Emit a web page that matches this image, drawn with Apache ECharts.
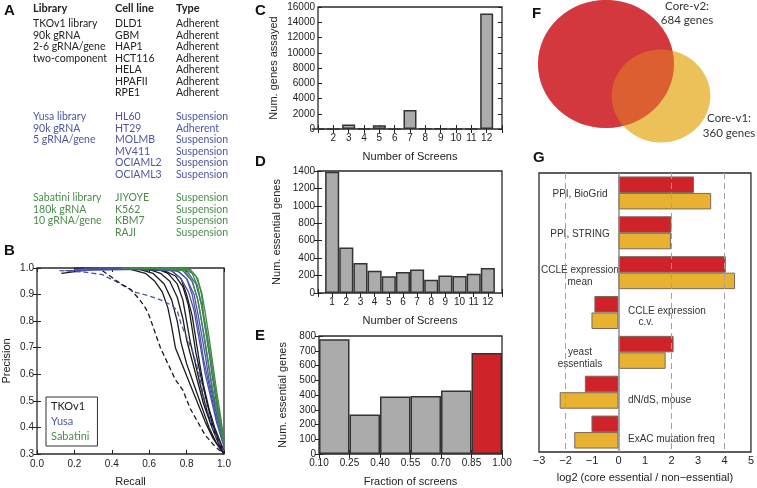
<!DOCTYPE html>
<html>
<head>
<meta charset="utf-8">
<script src="https://cdn.jsdelivr.net/npm/echarts@6/dist/echarts.min.js"></script>
<style>
  html, body { margin: 0; padding: 0; background: #fff; }
  #main { width: 757px; height: 488px; }
</style>
</head>
<body>
<div id="main"></div>
<script>
// ---- panel A: library table
var tkoInfo = ['TKOv1 library', '90k gRNA', '2-6 gRNA/gene', 'two-component'];
var tkoLines = ['DLD1', 'GBM', 'HAP1', 'HCT116', 'HELA', 'HPAFII', 'RPE1'];
var tkoTypes = ['Adherent', 'Adherent', 'Adherent', 'Adherent', 'Adherent', 'Adherent', 'Adherent'];
var yusaInfo = ['Yusa library', '90k gRNA', '5 gRNA/gene'];
var yusaLines = ['HL60', 'HT29', 'MOLMB', 'MV411', 'OCIAML2', 'OCIAML3'];
var yusaTypes = ['Suspension', 'Adherent', 'Suspension', 'Suspension', 'Suspension', 'Suspension'];
var sabInfo = ['Sabatini library', '180k gRNA', '10 gRNA/gene'];
var sabLines = ['JIYOYE', 'K562', 'KBM7', 'RAJI'];
var sabTypes = ['Suspension', 'Suspension', 'Suspension', 'Suspension'];

// ---- panel B: precision / recall curves [recall, precision]
var tkoCurves = [
  [[0.13,0.98],[0.3,0.995],[0.5,0.995],[0.58,0.98],[0.63,0.95],[0.67,0.91],[0.70,0.85],[0.72,0.78],[0.74,0.70],[0.78,0.63],[0.82,0.56],[0.86,0.49],[0.90,0.42],[0.94,0.36],[1.0,0.30]],
  [[0.2,1.0],[0.55,0.995],[0.62,0.98],[0.68,0.94],[0.72,0.88],[0.75,0.80],[0.77,0.72],[0.80,0.64],[0.84,0.56],[0.88,0.48],[0.92,0.40],[0.96,0.34],[1.0,0.30]],
  [[0.25,1.0],[0.6,0.995],[0.66,0.98],[0.71,0.95],[0.75,0.89],[0.78,0.81],[0.80,0.73],[0.83,0.65],[0.86,0.57],[0.89,0.49],[0.93,0.41],[0.97,0.34],[1.0,0.30]],
  [[0.3,1.0],[0.65,0.995],[0.70,0.98],[0.75,0.94],[0.78,0.88],[0.80,0.80],[0.82,0.72],[0.85,0.63],[0.88,0.54],[0.91,0.46],[0.95,0.38],[1.0,0.31]],
  [[0.35,1.0],[0.68,0.99],[0.74,0.97],[0.78,0.93],[0.81,0.86],[0.83,0.77],[0.85,0.68],[0.88,0.58],[0.91,0.49],[0.94,0.41],[0.97,0.35],[1.0,0.30]],
  [[0.4,1.0],[0.72,0.99],[0.77,0.96],[0.80,0.90],[0.83,0.82],[0.85,0.73],[0.87,0.64],[0.89,0.56],[0.92,0.47],[0.95,0.40],[1.0,0.31]]
];
var tkoDashed = [[0.35,0.99],[0.40,0.965],[0.45,0.94],[0.50,0.92],[0.55,0.88],[0.58,0.85],[0.60,0.82],[0.63,0.76],[0.66,0.70],[0.70,0.64],[0.74,0.58],[0.78,0.54],[0.82,0.47],[0.86,0.42],[0.90,0.37],[0.95,0.33],[1.0,0.30]];
var yusaCurves = [
  [[0.15,0.99],[0.55,0.995],[0.72,0.99],[0.77,0.96],[0.81,0.91],[0.84,0.84],[0.86,0.76],[0.88,0.68],[0.90,0.60],[0.93,0.51],[0.96,0.42],[0.99,0.35],[1.0,0.33]],
  [[0.2,0.995],[0.6,1.0],[0.75,0.99],[0.80,0.96],[0.84,0.90],[0.86,0.83],[0.88,0.75],[0.90,0.67],[0.92,0.58],[0.95,0.48],[0.98,0.40],[1.0,0.34]],
  [[0.25,1.0],[0.65,1.0],[0.78,0.99],[0.83,0.95],[0.86,0.88],[0.88,0.80],[0.90,0.71],[0.92,0.62],[0.94,0.53],[0.96,0.45],[0.99,0.37],[1.0,0.35]],
  [[0.3,1.0],[0.7,1.0],[0.80,0.99],[0.85,0.94],[0.88,0.86],[0.90,0.77],[0.92,0.68],[0.94,0.58],[0.96,0.49],[0.98,0.41],[1.0,0.36]],
  [[0.7,0.995],[0.76,0.985],[0.80,0.96],[0.83,0.90],[0.85,0.83],[0.87,0.75],[0.89,0.66],[0.92,0.56],[0.95,0.46],[0.98,0.38],[1.0,0.33]]
];
var yusaDashed = [[0.12,0.99],[0.25,0.985],[0.35,0.975],[0.42,0.95],[0.47,0.93],[0.52,0.91],[0.60,0.895],[0.66,0.88],[0.72,0.86],[0.75,0.84],[0.77,0.79],[0.80,0.74],[0.83,0.69],[0.86,0.62],[0.89,0.52],[0.92,0.44],[0.96,0.36],[1.0,0.31]];
var sabCurves = [
  [[0.45,1.0],[0.78,1.0],[0.83,0.98],[0.86,0.93],[0.88,0.86],[0.90,0.78],[0.92,0.69],[0.94,0.60],[0.96,0.51],[0.98,0.42],[1.0,0.34]],
  [[0.5,1.0],[0.80,1.0],[0.85,0.97],[0.88,0.91],[0.90,0.83],[0.92,0.74],[0.94,0.64],[0.96,0.54],[0.98,0.45],[1.0,0.35]],
  [[0.55,1.0],[0.82,0.995],[0.86,0.96],[0.88,0.90],[0.89,0.83],[0.91,0.75],[0.93,0.66],[0.95,0.56],[0.97,0.47],[0.99,0.39],[1.0,0.34]],
  [[0.6,1.0],[0.79,0.99],[0.83,0.95],[0.86,0.88],[0.88,0.80],[0.90,0.72],[0.92,0.63],[0.94,0.54],[0.97,0.44],[1.0,0.34]]
];

// ---- panels C, D, E
var screenCounts = [1, 2, 3, 4, 5, 6, 7, 8, 9, 10, 11, 12];
var genesAssayed = [0, 30, 600, 60, 480, 20, 2480, 40, 70, 20, 30, 15150];
var essentialGenes = [1390, 523, 343, 256, 191, 240, 271, 153, 202, 195, 221, 286];
var fractionEdges = ['0.10', '0.25', '0.40', '0.55', '0.70', '0.85', '1.00'];
var fractionGenes = [778, 267, 389, 393, 431, 684];

// ---- panel F
var vennNames = ['Core-v2', 'Core-v1'];
var vennGenes = [684, 360];

// ---- panel G
var featureNames = ['PPI, BioGrid', 'PPI, STRING', 'CCLE expression mean', 'CCLE expression c.v.', 'yeast essentials', 'dN/dS, mouse', 'ExAC mutation freq'];
var coreV2Log2 = [2.85, 2.0, 4.05, -0.91, 2.08, -1.27, -1.02];
var coreV1Log2 = [3.5, 1.98, 4.4, -1.02, 1.78, -2.22, -1.67];

var ink = '#222';
var font = 'Liberation Sans, Arial, sans-serif';
var humanist = 'Lato, Open Sans, sans-serif';
var red = '#cf2229', yellow = '#e8b130', grey = '#ababab';
var blackLine = '#1b1b1b', blueLine = '#4a55a8', greenLine = '#3f8c45';
var blueText = '#4d55a3', greenText = '#4a8c4a';

var chart = echarts.init(document.getElementById('main'));

function plain(v) { return String(v); }

function xAx(grid, o) {
  return Object.assign({
    gridIndex: grid, type: 'value', position: 'bottom',
    axisLine: { show: false },
    axisTick: { inside: true, length: 4, lineStyle: { color: ink } },
    axisLabel: { color: ink, fontSize: 10, fontFamily: font, margin: 4 },
    splitLine: { show: false },
    nameLocation: 'middle',
    nameTextStyle: { color: ink, fontSize: 11, fontFamily: font }
  }, o);
}
function yAx(grid, o) {
  return Object.assign({
    gridIndex: grid, type: 'value', position: 'left',
    axisLine: { show: false },
    axisTick: { inside: true, length: 4, lineStyle: { color: ink } },
    axisLabel: { color: ink, fontSize: 10, fontFamily: font, margin: 3, formatter: plain },
    splitLine: { show: false },
    nameLocation: 'middle',
    nameTextStyle: { color: ink, fontSize: 11, fontFamily: font }
  }, o);
}
function mirror(ax, pos) {
  var m = Object.assign({}, ax, { position: pos, name: '' });
  m.axisLabel = { show: false };
  return m;
}

var gridBox = { show: true, borderColor: '#2a2a2a', borderWidth: 1.3, backgroundColor: 'transparent' };
var grids = [
  Object.assign({ left: 33, top: 268, width: 191, height: 190 }, gridBox),
  Object.assign({ left: 318, top: 7, width: 184, height: 122 }, gridBox),
  Object.assign({ left: 318, top: 171, width: 184, height: 122 }, gridBox),
  Object.assign({ left: 319, top: 336, width: 183, height: 122 }, gridBox),
  Object.assign({ left: 539, top: 173, width: 212, height: 286 }, gridBox),
  { left: 490, top: 0, width: 267, height: 160, show: false }
];

var bx = xAx(0, { min: 0, max: 1, interval: 0.2, name: 'Recall', nameGap: 22,
  axisLabel: { color: ink, fontSize: 10, fontFamily: font, margin: 5, formatter: function (v) { return v.toFixed(1); } } });
var by = yAx(0, { min: 0.3, max: 1, interval: 0.1, name: 'Precision', nameGap: 25,
  axisLabel: { color: ink, fontSize: 10, fontFamily: font, margin: 3, formatter: function (v) { return v.toFixed(1); } } });
var cx = xAx(1, { min: 1, max: 13, interval: 1, name: 'Number of Screens', nameGap: 22,
  axisLabel: { color: ink, fontSize: 10, fontFamily: font, margin: 4, formatter: function (v) { return (v < 2 || v > 12) ? '' : v; } } });
var cy = yAx(1, { min: 0, max: 16000, interval: 2000, name: 'Num. genes assayed', nameGap: 39 });
var dx = xAx(2, { min: 0, max: 13, interval: 1, name: 'Number of Screens', nameGap: 22,
  axisLabel: { color: ink, fontSize: 10, fontFamily: font, margin: 4, formatter: function (v) { return (v < 1 || v > 12) ? '' : v; } } });
var dy = yAx(2, { min: 0, max: 1400, interval: 200, name: 'Num. essential genes', nameGap: 36 });
var ex = xAx(3, { min: 0, max: 6, interval: 1, name: 'Fraction of screens', nameGap: 22,
  axisLabel: { color: ink, fontSize: 10, fontFamily: font, margin: 4, formatter: function (v) { return fractionEdges[v]; } } });
var ey = yAx(3, { min: 0, max: 800, interval: 100, name: 'Num. essential genes', nameGap: 31 });
var gx = xAx(4, { min: -3, max: 5, interval: 1, name: 'log2 (core essential / non\u2212essential)', nameGap: 20,
  axisLabel: { color: ink, fontSize: 11, fontFamily: font, margin: 3, formatter: function (v) { return String(v).replace('-', '\u2212'); } } });
var gy = yAx(4, { type: 'category', data: featureNames, inverse: true,
  axisLabel: { show: false },
  axisTick: { inside: true, length: 4, alignWithLabel: true, lineStyle: { color: ink } } });

var xAxes = [bx, mirror(bx, 'top'), cx, mirror(cx, 'top'), dx, mirror(dx, 'top'), ex, mirror(ex, 'top'), gx, mirror(gx, 'top'),
  { gridIndex: 5, type: 'value', min: 0, max: 267, show: false }];
var yAxes = [by, mirror(by, 'right'), cy, mirror(cy, 'right'), dy, mirror(dy, 'right'), ey, mirror(ey, 'right'), gy, mirror(gy, 'right'),
  { gridIndex: 5, type: 'value', min: 0, max: 160, inverse: true, show: false }];

var series = [];
function curve(name, pts, color, dashed) {
  series.push({
    type: 'line', name: name, xAxisIndex: 0, yAxisIndex: 0, data: pts,
    showSymbol: false, silent: true, z: dashed ? 3 : 2,
    lineStyle: { color: color, width: 1.3, type: dashed ? [5, 3] : 'solid' },
    itemStyle: { color: color }
  });
}
tkoCurves.forEach(function (c) { curve('TKOv1', c, blackLine, false); });
yusaCurves.forEach(function (c) { curve('Yusa', c, blueLine, false); });
sabCurves.forEach(function (c) { curve('Sabatini', c, greenLine, false); });
curve('Yusa', yusaDashed, blueLine, true);
curve('TKOv1', tkoDashed, blackLine, true);

var histStyle = { color: grey, borderColor: '#333', borderWidth: 1.5 };
series.push({
  type: 'bar', xAxisIndex: 2, yAxisIndex: 2, barWidth: 13, itemStyle: histStyle,
  data: screenCounts.map(function (s, i) { return [s, genesAssayed[i]]; })
});
series.push({
  type: 'bar', xAxisIndex: 4, yAxisIndex: 4, barWidth: 14.1, itemStyle: histStyle,
  data: screenCounts.map(function (s, i) { return [s, essentialGenes[i]]; })
});
series.push({
  type: 'bar', xAxisIndex: 6, yAxisIndex: 6, barWidth: 30.5, itemStyle: histStyle,
  data: fractionGenes.map(function (v, i) {
    var item = { value: [i + 0.5, v] };
    if (i === fractionGenes.length - 1) item.itemStyle = { color: red };
    return item;
  })
});

// panel F: area proportional to gene count
function vennSize(n) { return [5.2 * Math.sqrt(n), 4.9 * Math.sqrt(n)]; }
var vennCentres = [[116, 64], [171, 96]];
series.push({
  type: 'scatter', xAxisIndex: 10, yAxisIndex: 10, silent: true,
  data: [
    { name: vennNames[0], value: vennCentres[0], symbolSize: vennSize(vennGenes[0]), itemStyle: { color: red } },
    { name: vennNames[1], value: vennCentres[1], symbolSize: vennSize(vennGenes[1]), itemStyle: { color: yellow } },
    { name: vennNames[0], value: vennCentres[0], symbolSize: vennSize(vennGenes[0]), itemStyle: { color: red, opacity: 0.5 } }
  ]
});

// panel G
series.push({
  type: 'line', xAxisIndex: 8, yAxisIndex: 8, data: [], z: 1, silent: true,
  markLine: {
    symbol: 'none', silent: true, label: { show: false },
    lineStyle: { color: '#a0a0a0', width: 1, type: [6, 4] },
    data: [
      { xAxis: -2 }, { xAxis: 2 }, { xAxis: 4 },
      { xAxis: 0, lineStyle: { color: '#8a8a8a', width: 1.5, type: 'solid' } }
    ]
  }
});
series.push({
  type: 'bar', xAxisIndex: 8, yAxisIndex: 8, data: coreV2Log2, barWidth: 16.5, barGap: '0%', z: 3,
  itemStyle: { color: red, borderColor: '#7a6a5a', borderWidth: 1 }
});
series.push({
  type: 'bar', xAxisIndex: 8, yAxisIndex: 8, data: coreV1Log2, barWidth: 16.5, barGap: '0%', z: 3,
  itemStyle: { color: yellow, borderColor: '#7a6a5a', borderWidth: 1 }
});

// text graphics
var g = [];
function txt(x, y, s, fill, f, align) {
  g.push({ type: 'text', x: x, y: y, silent: true,
    style: { text: s, fill: fill, font: f, textAlign: align || 'left', textVerticalAlign: 'middle' } });
}
var letter = 'bold 15px Liberation Sans, Arial, sans-serif';
txt(4, 11, 'A', '#111', letter);
txt(4, 251, 'B', '#111', letter);
txt(255, 11, 'C', '#111', letter);
txt(255, 162, 'D', '#111', letter);
txt(255, 336, 'E', '#111', letter);
txt(532, 14, 'F', '#111', letter);
txt(533, 158, 'G', '#111', letter);

var head = 'bold 11px ' + humanist, body = '10.5px ' + humanist;
txt(33, 8, 'Library', '#222', head);
txt(115, 8, 'Cell line', '#222', head);
txt(176, 8, 'Type', '#222', head);
function block(y0, info, lines, types, color) {
  var step = 11.5;
  info.forEach(function (s, i) { txt(33, y0 + i * step, s, color, body); });
  lines.forEach(function (s, i) { txt(115, y0 + i * step, s, color, body); });
  types.forEach(function (s, i) { txt(176, y0 + i * step, s, color, body); });
}
block(24, tkoInfo, tkoLines, tkoTypes, '#222');
block(117, yusaInfo, yusaLines, yusaTypes, blueText);
block(198, sabInfo, sabLines, sabTypes, greenText);

var venn = '11.5px ' + humanist;
txt(687, 6, vennNames[0] + ':', '#333', venn, 'center');
txt(687, 20, vennGenes[0] + ' genes', '#333', venn, 'center');
txt(729, 118, vennNames[1] + ':', '#333', venn, 'center');
txt(729, 133, vennGenes[1] + ' genes', '#333', venn, 'center');

var gl = '10px ' + font;
txt(580, 194, 'PPI, BioGrid', '#333', gl, 'center');
txt(580, 234, 'PPI, STRING', '#333', gl, 'center');
txt(580, 270, 'CCLE expression', '#333', gl, 'center');
txt(580, 282, 'mean', '#333', gl, 'center');
txt(628, 311, 'CCLE expression', '#333', gl);
txt(646, 322, 'c.v.', '#333', gl, 'center');
txt(580, 352, 'yeast', '#333', gl, 'center');
txt(580, 364, 'essentials', '#333', gl, 'center');
txt(628, 400, 'dN/dS, mouse', '#333', gl);
txt(628, 439, 'ExAC mutation freq', '#333', gl);

var option = {
  animation: false,
  backgroundColor: '#fff',
  grid: grids,
  xAxis: xAxes,
  yAxis: yAxes,
  legend: {
    left: 46, top: 397, orient: 'vertical', icon: 'none', selectedMode: false,
    itemWidth: 0, itemHeight: 10, itemGap: 4, padding: [4, 8, 4, 0],
    borderColor: '#333', borderWidth: 1,
    textStyle: { fontFamily: humanist, fontSize: 11 },
    data: [
      { name: 'TKOv1', textStyle: { color: '#222' } },
      { name: 'Yusa', textStyle: { color: blueText } },
      { name: 'Sabatini', textStyle: { color: greenText } }
    ]
  },
  graphic: g,
  series: series
};
chart.setOption(option);
</script>
</body>
</html>
